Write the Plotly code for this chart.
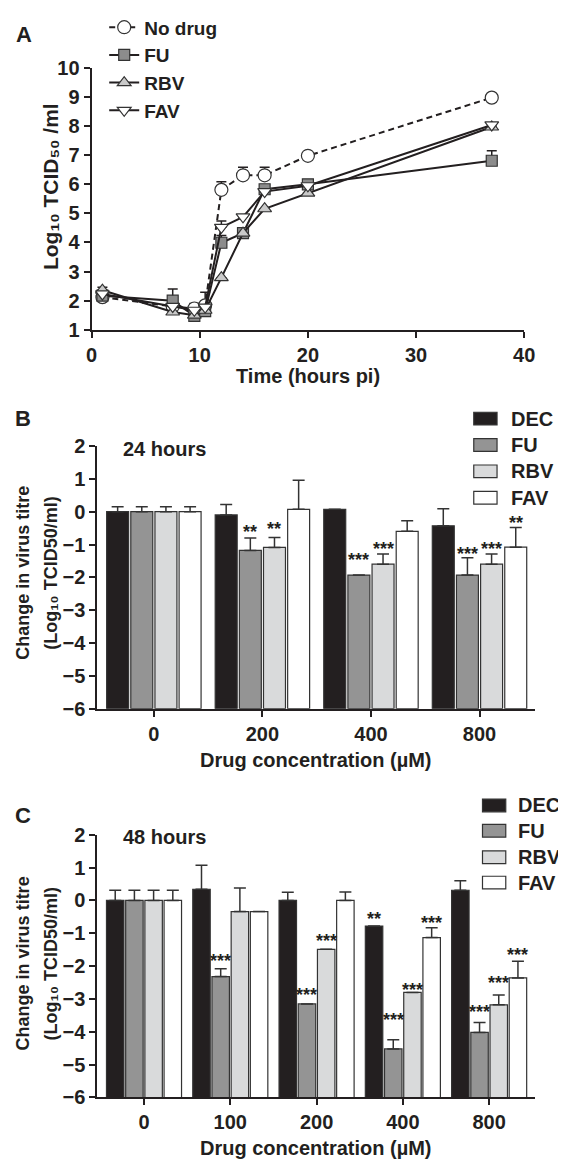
import plotly.graph_objects as go

W, H = 566, 1163
INK = "#231f20"
FONT = "Liberation Sans, Arial, DejaVu Sans, sans-serif"

# ---------------- Panel A data ----------------
time_h = [1, 7.5, 9.5, 10.5, 12, 14, 16, 20, 37]
nodrug_a = [2.12, 1.80, 1.73, 1.84, 5.81, 6.31, 6.31, 6.98, 8.98]
nodrug_a_err = [0, 0, 0.17, 0.45, 0.28, 0.28, 0.28, 0, 0]
fu_a = [2.17, 2.00, 1.48, 1.64, 3.99, 4.32, 5.83, 6.00, 6.81]
fu_a_err = [0, 0.40, 0, 0, 0.25, 0, 0, 0, 0.34]
rbv_a = [2.36, 1.61, 1.50, 1.67, 2.79, 4.32, 5.16, 5.70, 7.97]
rbv_a_err = [0.10, 0, 0, 0, 0, 0, 0, 0, 0]
fav_a = [2.23, 1.80, 1.67, 1.78, 4.52, 4.88, 5.75, 5.95, 8.04]
fav_a_err = [0, 0, 0, 0, 0.22, 0, 0, 0, 0]

# ---------------- Panel B data (24 hours) ----------------
conc_b = ["0", "200", "400", "800"]
dec_b = [0, -0.10, 0.07, -0.43]
dec_b_err = [0.15, 0.32, 0, 0.52]
fu_b = [0, -1.18, -1.93, -1.93]
fu_b_err = [0.15, 0.38, 0, 0.53]
rbv_b = [0, -1.09, -1.60, -1.60]
rbv_b_err = [0.15, 0.30, 0.31, 0.31]
fav_b = [0, 0.07, -0.60, -1.08]
fav_b_err = [0.15, 0.89, 0.32, 0.60]
# significance: (series index, category index, label, level)
sig_b = [(1, 1, "**", -0.50), (2, 1, "**", -0.40),
         (1, 2, "***", -1.35), (2, 2, "***", -1.02),
         (1, 3, "***", -1.17), (2, 3, "***", -1.02), (3, 3, "**", -0.23)]

# ---------------- Panel C data (48 hours) ----------------
conc_c = ["0", "100", "200", "400", "800"]
dec_c = [0, 0.34, 0.0, -0.78, 0.31]
dec_c_err = [0.31, 0.73, 0.25, 0, 0.29]
fu_c = [0, -2.32, -3.15, -4.52, -4.02]
fu_c_err = [0.31, 0.24, 0, 0.28, 0.30]
rbv_c = [0, -0.34, -1.49, -2.80, -3.18]
rbv_c_err = [0.31, 0.72, 0, 0, 0.30]
fav_c = [0, -0.34, 0.0, -1.13, -2.36]
fav_c_err = [0.31, 0, 0.26, 0.30, 0.51]
sig_c = [(1, 1, "***", -1.72),
         (1, 2, "***", -2.76), (2, 2, "***", -1.11),
         (0, 3, "**", -0.44), (1, 3, "***", -3.51), (2, 3, "***", -2.61), (3, 3, "***", -0.58),
         (1, 4, "***", -3.29), (2, 4, "***", -2.40), (3, 4, "***", -1.54)]

bar_names = ["DEC", "FU", "RBV", "FAV"]
bar_colors = [INK, "#949494", "#d9dadb", "#ffffff"]


def px(x):
    return x / W


def py(y):
    return 1 - y / H


fig = go.Figure()

# ---- Panel A traces ----
a_series = [
    ("No drug", nodrug_a, nodrug_a_err, "circle", "#ffffff", 13, "6px,4px"),
    ("FU", fu_a, fu_a_err, "square", "#8c8c8c", 11, "solid"),
    ("RBV", rbv_a, rbv_a_err, "triangle-up", "#c9c9c9", 12, "solid"),
    ("FAV", fav_a, fav_a_err, "triangle-down", "#ffffff", 12, "solid"),
]
for name, vals, errs, sym, fill, size, dash in a_series:
    fig.add_trace(go.Scatter(
        x=time_h, y=vals, name=name, mode="lines+markers",
        line=dict(color=INK, width=2, dash=dash),
        marker=dict(symbol=sym, size=size, color=fill, line=dict(color="#333333", width=1.2)),
        error_y=dict(type="data", array=errs, arrayminus=[0] * len(errs), symmetric=False,
                     color=INK, thickness=1.5, width=5),
        xaxis="x", yaxis="y", showlegend=True, legend="legend",
    ))

BASE = -6


def add_bars(cats, series, errs, xa, ya):
    for name, vals, err, col in zip(bar_names, series, errs, bar_colors):
        fig.add_trace(go.Bar(
            x=cats, y=[v - BASE for v in vals], base=BASE, name=name,
            textposition="none",
            marker=dict(color=col, line=dict(color="#333333", width=1.2)),
            error_y=dict(type="data", array=err, arrayminus=[0] * len(err), symmetric=False,
                         color="#333333", thickness=1.5, width=6),
            xaxis=xa, yaxis=ya, showlegend=False,
        ))


add_bars(conc_b, [dec_b, fu_b, rbv_b, fav_b], [dec_b_err, fu_b_err, rbv_b_err, fav_b_err], "x2", "y2")
add_bars(conc_c, [dec_c, fu_c, rbv_c, fav_c], [dec_c_err, fu_c_err, rbv_c_err, fav_c_err], "x3", "y3")

BARGAP = 0.11
BARGROUPGAP = 0.09

axis_common = dict(showline=True, linewidth=2, linecolor=INK, ticks="outside", ticklen=6,
                   tickwidth=2, tickcolor=INK, showgrid=False, zeroline=False,
                   tickfont=dict(family=FONT, size=20, color=INK, weight="bold"))

annotations = []


def txt(x, y, s, size=19, angle=0, xanchor="center", yanchor="middle"):
    annotations.append(dict(x=px(x), y=py(y), xref="paper", yref="paper", text=s,
                            showarrow=False, textangle=angle, xanchor=xanchor, yanchor=yanchor,
                            borderpad=0,
                            font=dict(family=FONT, size=size, color=INK, weight="bold")))


# panel letters
txt(10, 11, "A", size=22)
txt(9, 404, "B", size=22)
txt(9, 810, "C", size=22)

# axis titles
txt(37, 166, "Log₁₀ TCID₅₀ /ml", size=21, angle=-90)
txt(303, 360, "Time (hours pi)", size=20)

txt(9, 562, "Change in virus titre", size=18, angle=-90)
txt(38, 562, "(Log₁₀ TCID50/ml)", size=18, angle=-90)
txt(311, 753, "Drug concentration (µM)", size=20)
txt(155, 435, "24 hours", size=20)

txt(9, 962, "Change in virus titre", size=18, angle=-90)
txt(38, 962, "(Log₁₀ TCID50/ml)", size=18, angle=-90)
txt(311, 1151, "Drug concentration (µM)", size=20)
txt(155, 832, "48 hours", size=20)

shapes = []


def bar_legend(x0, rows, text_x):
    for (name, col), yc in zip(zip(bar_names, bar_colors), rows):
        shapes.append(dict(type="rect", xref="paper", yref="paper",
                           x0=px(x0), x1=px(x0 + 24), y0=py(yc + 6.5), y1=py(yc - 6.5),
                           fillcolor=col, line=dict(color="#333333", width=1.2)))
        txt(text_x, yc, name, size=20, xanchor="left")


bar_legend(474, [404, 431, 458, 485], 511)
bar_legend(483, [800, 826, 853, 879], 519)


def star_annots(sigs, xa, ya):
    span = 1 - BARGAP
    slot = span / 4
    for k, ci, lab, lvl in sigs:
        annotations.append(dict(x=ci - span / 2 + slot * (k + 0.5), y=lvl, xref=xa, yref=ya,
                                text=lab, showarrow=False, xanchor="center", yanchor="middle",
                                yshift=-4, borderpad=0,
                                font=dict(family=FONT, size=18, color=INK, weight="bold")))


star_annots(sig_b, "x2", "y2")
star_annots(sig_c, "x3", "y3")

fig.update_layout(
    width=W, height=H, margin=dict(l=0, r=0, t=0, b=0),
    paper_bgcolor="white", plot_bgcolor="white",
    barmode="group", bargap=BARGAP, bargroupgap=BARGROUPGAP,
    font=dict(family=FONT, color=INK),
    xaxis=dict(domain=[px(80), px(526)], anchor="y", range=[0, 40], dtick=10, **axis_common),
    yaxis=dict(domain=[py(313), py(45)], anchor="x", range=[1, 10], dtick=1, **axis_common),
    xaxis2=dict(domain=[px(86), px(537)], anchor="y2", type="category",
                range=[-0.52, 3.51], **axis_common),
    yaxis2=dict(domain=[py(701), py(432)], anchor="x2", range=[-6, 2], dtick=1, **axis_common),
    xaxis3=dict(domain=[px(86), px(537)], anchor="y3", type="category",
                range=[-0.54, 4.53], **axis_common),
    yaxis3=dict(domain=[py(1099), py(830)], anchor="x3", range=[-6, 2], dtick=1, **axis_common),
    legend=dict(x=px(93), y=py(-16), xanchor="left", yanchor="top",
                bgcolor="rgba(0,0,0,0)", itemwidth=30, tracegroupgap=0,
                font=dict(family=FONT, size=19, color=INK, weight="bold")),
    annotations=annotations, shapes=shapes,
)

fig.write_html("out.html")
